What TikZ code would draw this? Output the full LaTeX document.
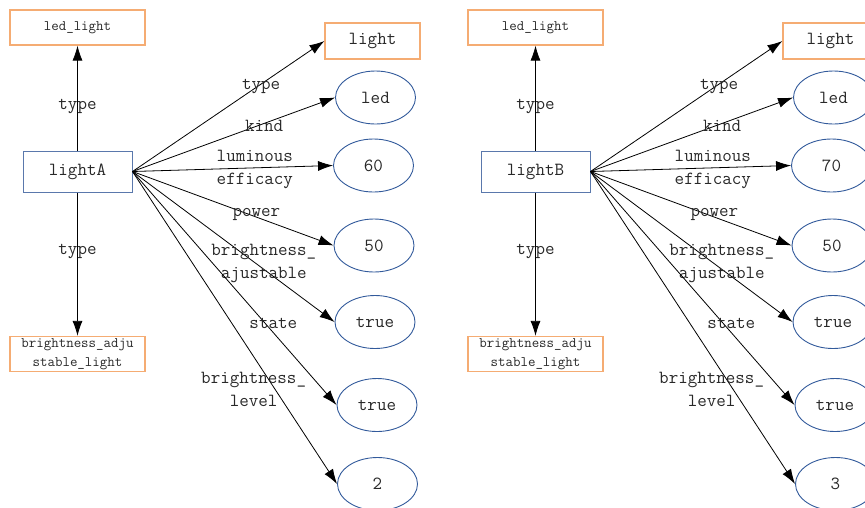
\documentclass[tikz,border=0pt]{standalone}
\usetikzlibrary{arrows.meta, shapes.geometric}
\definecolor{peach}{RGB}{245, 172, 115}
\definecolor{boxblue}{RGB}{90, 120, 172}
\definecolor{ovalblue}{RGB}{50, 90, 155}
\definecolor{ink}{RGB}{40, 40, 40}

\begin{document}
\begin{tikzpicture}[
  x=1pt, y=-1pt,
  every node/.style={text=ink, font=\ttfamily\fontsize{18.5}{23}\selectfont},
  typebox/.style={rectangle, draw=peach, line width=1.2pt, inner sep=0pt,
                  minimum width=135pt, minimum height=35pt, align=center,
                  font=\ttfamily\fontsize{14.5}{19}\selectfont},
  classbox/.style={rectangle, draw=peach, line width=1.2pt, inner sep=0pt,
                   minimum width=95pt, minimum height=36pt},
  entity/.style={rectangle, draw=boxblue, line width=1pt, inner sep=0pt,
                 minimum width=109pt, minimum height=41pt},
  value/.style={ellipse, draw=ovalblue, line width=0.9pt, inner sep=0pt,
                minimum width=80pt, minimum height=53pt},
  lbl/.style={align=center, inner sep=1pt, yshift=-2pt},
  arr/.style={-{Latex[length=15pt,width=10pt]}, line width=0.8pt, black}
]
\clip (0,0) rectangle (865,507);

\foreach \g/\dx/\eff/\lvl in {A/0/60/2, B/458/70/3}{
\begin{scope}[xshift=\dx]
\node[entity]   (light\g) at (77.5,171.5) {light\g};
\node[typebox]  (led\g)   at (77.5,27.5)  {led\_light};
\node[typebox]  (adj\g)   at (77.5,354)   {brightness\_adju\\stable\_light};
\node[classbox] (cls\g)   at (372.5,41)   {light};

\node[value] (kind\g)  at (375.5,97.5) {led};
\node[value] (eff\g)   at (373.5,165.5) {\eff};
\node[value] (pow\g)   at (374,245.5)  {50};
\node[value] (adjv\g)  at (375,322)    {true};
\node[value] (state\g) at (377,405)    {true};
\node[value] (lvl\g)   at (377.5,484)  {\lvl};

\draw[arr] (light\g.north) -- node[lbl, pos=0.44] {type} (led\g.south);
\draw[arr] (light\g.south) -- node[lbl, pos=0.4] {type} (adj\g.north);

\draw[arr] (light\g.east) -- node[lbl, pos=0.67] {type} (cls\g.west);
\draw[arr] (light\g.east) -- node[lbl, pos=0.65] {kind} (kind\g.west);
\draw[arr] (light\g.east) -- node[lbl, pos=0.61] {luminous\\efficacy} (eff\g.west);
\draw[arr] (light\g.east) -- node[lbl, pos=0.616, yshift=5pt] {power} (pow\g.west);
\draw[arr] (light\g.east) -- node[lbl, pos=0.65, yshift=8pt] {brightness\_\\ajustable} (adjv\g.west);
\draw[arr] (light\g.east) -- node[lbl, pos=0.69, yshift=11pt] {state} (state\g.west);
\draw[arr] (light\g.east) -- node[lbl, pos=0.69, xshift=-20pt] {brightness\_\\level} (lvl\g.west);
\end{scope}
}

\end{tikzpicture}
\end{document}
